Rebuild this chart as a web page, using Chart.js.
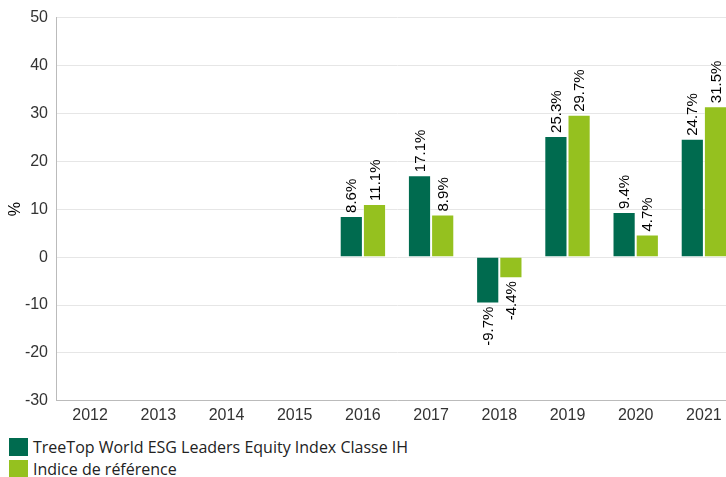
<!DOCTYPE html>
<html>
<head>
<meta charset="utf-8">
<script src="https://cdn.jsdelivr.net/npm/chart.js@4"></script>
<style>
  html, body { margin: 0; padding: 0; background: #fff; overflow: hidden; width: 726px; height: 477px; }
  #wrap { position: relative; width: 750px; height: 430px; }
  #legend { position: absolute; left: 9px; top: 436px; font-family: "Open Sans", sans-serif; font-size: 16px; color: #222; }
  .item { display: flex; align-items: center; height: 22px; }
  .box { width: 19px; height: 18px; margin-right: 5px; }
</style>
</head>
<body>
<div id="wrap"><canvas id="chart"></canvas></div>
<div id="legend"></div>
<script>
const years = ["2012", "2013", "2014", "2015", "2016", "2017", "2018", "2019", "2020", "2021"];
const fundName = "TreeTop World ESG Leaders Equity Index Classe IH";
const benchName = "Indice de référence";
const fundValues = [null, null, null, null, 8.6, 17.1, -9.7, 25.3, 9.4, 24.7];
const benchValues = [null, null, null, null, 11.1, 8.9, -4.4, 29.7, 4.7, 31.5];
const fundColor = "#006b4f";
const benchColor = "#95c11f";

// rotated value labels at the end of each bar
const barLabels = {
  id: "barLabels",
  afterDatasetsDraw(chart) {
    const ctx = chart.ctx;
    ctx.save();
    ctx.font = "15px 'Liberation Sans', Arial, sans-serif";
    ctx.fillStyle = "#000";
    ctx.textBaseline = "middle";
    chart.data.datasets.forEach((ds, i) => {
      chart.getDatasetMeta(i).data.forEach((bar, j) => {
        const v = ds.data[j];
        if (v === null) return;
        ctx.save();
        ctx.translate(bar.x, bar.y + (v >= 0 ? -3 : 3));
        ctx.rotate(-Math.PI / 2);
        ctx.textAlign = v >= 0 ? "left" : "right";
        ctx.fillText(v.toFixed(1) + "%", 0, 1);
        ctx.restore();
      });
    });
    ctx.restore();
  }
};

new Chart(document.getElementById("chart"), {
  type: "bar",
  data: {
    labels: years,
    datasets: [
      { label: fundName, data: fundValues, backgroundColor: fundColor, borderColor: "rgba(255,255,255,0.45)", borderWidth: 1 },
      { label: benchName, data: benchValues, backgroundColor: benchColor, borderColor: "rgba(255,255,255,0.45)", borderWidth: 1 }
    ]
  },
  options: {
    responsive: true,
    maintainAspectRatio: false,
    animation: false,
    layout: { padding: { top: 15, right: 12, left: 0 } },
    categoryPercentage: 0.68,
    barPercentage: 1,
    plugins: { legend: { display: false }, tooltip: { enabled: false } },
    scales: {
      x: {
        grid: { display: false, drawTicks: false },
        border: { color: "#bbb" },
        ticks: { color: "#333", font: { size: 16, family: "'Liberation Sans', Arial" }, padding: 5, maxRotation: 0 }
      },
      y: {
        min: -30, max: 50,
        afterFit(axis) { axis.width = 56; },
        ticks: { stepSize: 10, color: "#333", font: { size: 16, family: "'Liberation Sans', Arial" }, padding: 8 },
        grid: { color: "#e6e6e6", drawTicks: false },
        border: { color: "#bbb" },
        title: { display: true, text: "%", color: "#000", font: { size: 16, family: "'Liberation Sans', Arial" }, padding: { top: 6, bottom: 0 } }
      }
    }
  },
  plugins: [barLabels]
});

const legend = document.getElementById("legend");
[[fundName, fundColor], [benchName, benchColor]].forEach(([name, color]) => {
  const row = document.createElement("div");
  row.className = "item";
  row.innerHTML = '<span class="box" style="background:' + color + '"></span><span>' + name + '</span>';
  legend.appendChild(row);
});
</script>
</body>
</html>
